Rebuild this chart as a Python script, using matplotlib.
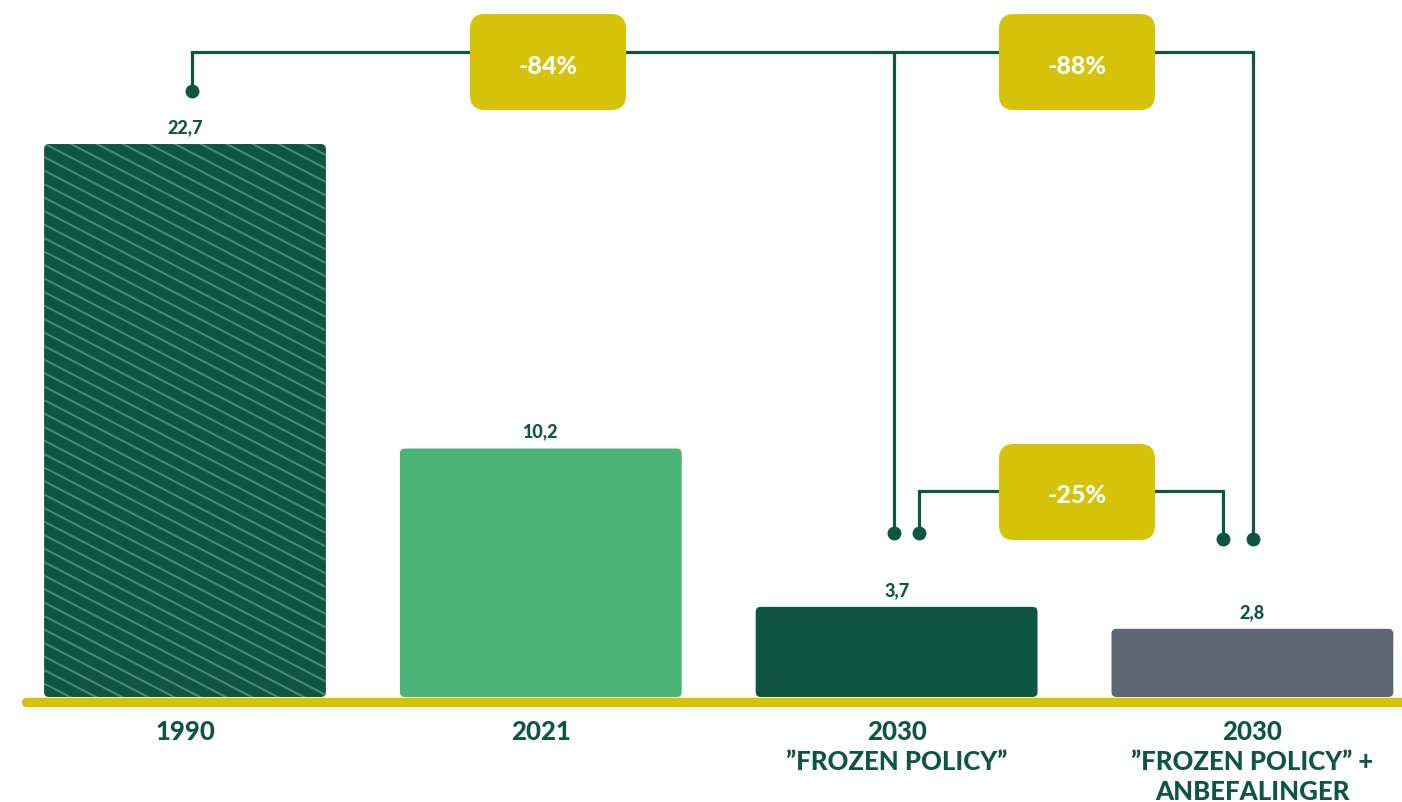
import matplotlib
matplotlib.use("Agg")
import matplotlib.pyplot as plt
from matplotlib.patches import FancyBboxPatch
import numpy as np

# --- data -------------------------------------------------------------
categories = ["1990", "2021", "2030\n\u201dFROZEN POLICY\u201d",
              "2030\n\u201dFROZEN POLICY\u201d +\nANBEFALINGER"]
values = [22.7, 10.2, 3.7, 2.8]
value_labels = ["22,7", "10,2", "3,7", "2,8"]
change_labels = ["-84%", "-88%", "-25%"]

# --- style ------------------------------------------------------------
DARK = "#0E5640"
LIGHT = "#4BB376"
GREY = "#5C6670"
YELLOW = "#D5C30A"
HATCH = "#4E8C76"
bar_colors = [DARK, LIGHT, DARK, GREY]
FONT = ["Lato", "DejaVu Sans"]

W, H = 1402, 803
fig = plt.figure(figsize=(W / 100, H / 100), dpi=100)
ax = fig.add_axes([0, 0, 1, 1])
ax.set_axis_off()

# layout scale: category spacing and value scale in pixels
X0, XS = 185.0, 355.8
Y0, YS = 698.0, 24.36


def dx(px):
    return (px - X0) / XS


def dy(py):
    return (Y0 - py) / YS


ax.set_xlim(dx(0), dx(W))
ax.set_ylim(dy(H), dy(0))
aspect = XS / YS

x = np.arange(len(values))
bars = ax.bar(x, values, width=0.792, color=bar_colors, zorder=2)

# rounded versions of the bars
rounded = []
for b, c in zip(bars, bar_colors):
    b.set_visible(False)
    p = FancyBboxPatch((b.get_x(), b.get_y()), b.get_width(), b.get_height(),
                       boxstyle="round,pad=0,rounding_size=%f" % (5 / XS),
                       mutation_aspect=aspect, facecolor=c, edgecolor="none",
                       zorder=2)
    ax.add_patch(p)
    rounded.append(p)

# diagonal stripes on the 1990 bar
b0 = bars[0]
slope = -0.52 * XS / YS
step = 13.5 / YS
x_left, x_right = b0.get_x(), b0.get_x() + b0.get_width()
span = abs(slope) * (x_right - x_left)
for off in np.arange(-span, values[0] + step, step):
    ln, = ax.plot([x_left, x_right], [off + span, off + span + slope * (x_right - x_left)],
                  color=HATCH, lw=1.4, zorder=3, solid_capstyle="butt")
    ln.set_clip_path(rounded[0])

# value labels
for xi, v, lab in zip(x, values, value_labels):
    ax.annotate(lab, (xi, v), xytext=(0, 12.5), textcoords="offset points",
                ha="center", va="center", fontsize=13, fontweight="black",
                color=DARK, family=FONT, zorder=5)

# baseline
ax.plot([dx(26), dx(W + 20)], [dy(702.5), dy(702.5)], color=YELLOW, lw=6.8,
        solid_capstyle="round", zorder=4)

# category labels
for xi, cat in zip(x, categories):
    ax.text(xi, dy(720), cat, ha="center", va="top", fontsize=18.5,
            fontweight="black", color=DARK, family=FONT, linespacing=1.3,
            zorder=5)

# connector brackets
lw = 2.3
ms = 10


def seg(xs, ys):
    ax.plot([dx(v) for v in xs], [dy(v) for v in ys], color=DARK, lw=lw,
            solid_capstyle="butt", solid_joinstyle="miter", zorder=6)


def dot(px, py):
    ax.plot(dx(px), dy(py), "o", color=DARK, ms=ms, mec="none", zorder=6)


# upper bracket: 1990 vs both 2030 scenarios
seg([192, 192, 1253, 1253], [92, 53, 53, 540])
seg([894, 894], [53, 534])
dot(192, 92)
dot(894, 534)
dot(1253, 540)
# lower bracket: between the 2030 scenarios
seg([919, 919, 1223, 1223], [534, 492, 492, 540])
dot(919, 534)
dot(1223, 540)


def badge(cx, cy, text):
    bw, bh = 156, 96
    p = FancyBboxPatch((dx(cx - bw / 2), dy(cy + bh / 2)), bw / XS, bh / YS,
                       boxstyle="round,pad=0,rounding_size=%f" % (15 / XS),
                       mutation_aspect=aspect, facecolor=YELLOW,
                       edgecolor="none", zorder=7)
    ax.add_patch(p)
    ax.text(dx(cx), dy(cy + 3), text, ha="center", va="center", fontsize=18,
            fontweight="black", color="white", family=FONT, zorder=8)


badge(548, 63, change_labels[0])
badge(1077, 63, change_labels[1])
badge(1077, 493, change_labels[2])

fig.savefig("out.png", dpi=100, facecolor="white")
